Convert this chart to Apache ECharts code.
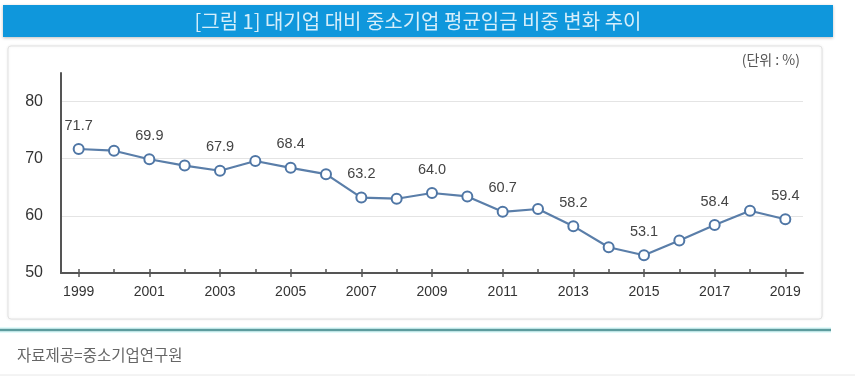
<!DOCTYPE html>
<html>
<head>
<meta charset="utf-8">
<script src="https://cdn.jsdelivr.net/npm/echarts@6/dist/echarts.min.js"></script>
<style>
  html, body { margin: 0; padding: 0; background: #ffffff; }
  #chart { width: 855px; height: 380px; }
</style>
</head>
<body>
<div id="chart"></div>
<script>
// ---- data ----
const years = ['1999','2000','2001','2002','2003','2004','2005','2006','2007','2008','2009',
               '2010','2011','2012','2013','2014','2015','2016','2017','2018','2019'];
const ratio = [71.7, 71.4, 69.9, 68.8, 67.9, 69.6, 68.4, 67.3, 63.2, 63.0, 64.0,
               63.4, 60.7, 61.2, 58.2, 54.5, 53.1, 55.7, 58.4, 60.9, 59.4];
const yTicks = [50, 60, 70, 80];
const titleText = '[그림 1] 대기업 대비 중소기업 평균임금 비중 변화 추이';
const unitText = '(단위 : %)';
const sourceText = '자료제공=중소기업연구원';

const chart = echarts.init(document.getElementById('chart'), null, { renderer: 'canvas' });

const numFont = '"Liberation Sans", Arial, sans-serif';
const krFont = '"Noto Sans CJK KR", "Noto Sans", sans-serif';

chart.setOption({
  animation: false,
  backgroundColor: '#ffffff',
  graphic: [
    // title bar
    { type: 'rect', z: 0, shape: { x: 3, y: 5, width: 830, height: 32 },
      style: { fill: '#0f97dc', shadowBlur: 3, shadowColor: 'rgba(0,0,0,0.25)', shadowOffsetY: 1 } },
    { type: 'text', z: 1, x: 418, y: 21,
      style: { text: titleText, fill: '#d6eefa', font: '20px ' + krFont, align: 'center', verticalAlign: 'middle' } },
    // chart frame
    { type: 'rect', z: 0, shape: { x: 8, y: 46, width: 814, height: 273, r: 3 },
      style: { fill: '#ffffff', stroke: '#e2e2e2', lineWidth: 1, shadowBlur: 3, shadowColor: 'rgba(0,0,0,0.08)' } },
    { type: 'text', z: 1, x: 800, y: 60,
      style: { text: unitText, fill: '#555555', font: '14px ' + krFont, align: 'right', verticalAlign: 'middle' } },
    // teal separator
    { type: 'rect', z: 0, shape: { x: 0, y: 327, width: 831, height: 6 },
      style: { fill: '#e2fbfb' } },
    { type: 'line', z: 1, shape: { x1: 0, y1: 330, x2: 831, y2: 330 },
      style: { stroke: '#5d9c9e', lineWidth: 2.5 } },
    { type: 'text', z: 1, x: 17, y: 355,
      style: { text: sourceText, fill: '#666666', font: '15.5px ' + krFont, align: 'left', verticalAlign: 'middle' } },
    { type: 'line', z: 1, shape: { x1: 0, y1: 375, x2: 855, y2: 375 },
      style: { stroke: '#e8e8e8', lineWidth: 1 } }
  ],
  grid: { left: 61, right: 52, top: 73, bottom: 107, containLabel: false },
  xAxis: [
    {
      type: 'category', data: years, boundaryGap: true,
      axisLine: { show: true, lineStyle: { color: '#555555', width: 2 } },
      axisTick: { show: true, alignWithLabel: true, length: 4, lineStyle: { color: '#555555', width: 1.5 } },
      axisLabel: { interval: 1, color: '#333333', fontFamily: numFont, fontSize: 14, margin: 12 },
      splitLine: { show: false }
    },
    {
      type: 'category', data: years, boundaryGap: true, position: 'bottom',
      axisLine: { show: false },
      axisTick: { show: true, inside: true, alignWithLabel: true, length: 4, lineStyle: { color: '#555555', width: 1.5 } },
      axisLabel: { show: false },
      splitLine: { show: false }
    }
  ],
  yAxis: {
    type: 'value', min: yTicks[0], max: 85, interval: 10,
    axisLine: { show: true, lineStyle: { color: '#555555', width: 2 } },
    axisTick: { show: false },
    axisLabel: {
      color: '#333333', fontFamily: numFont, fontSize: 16, margin: 18, showMaxLabel: false,
      formatter: v => (yTicks.indexOf(v) >= 0 ? String(v) : '')
    },
    splitLine: { show: true, showMinLine: false, showMaxLine: false, lineStyle: { color: '#e4e4e4', width: 1 } }
  },
  series: [{
    type: 'line',
    data: ratio,
    xAxisIndex: 0,
    symbol: 'circle',
    symbolSize: 10,
    lineStyle: { color: '#5a7ea9', width: 2.2 },
    itemStyle: { color: '#ffffff', borderColor: '#4f76a5', borderWidth: 2 },
    label: {
      show: true, position: 'top', distance: 10,
      color: '#444444', fontFamily: numFont, fontSize: 14.5,
      formatter: p => (p.dataIndex % 2 === 0 ? p.value.toFixed(1) : '')
    },
    z: 3
  }]
});
</script>
</body>
</html>
